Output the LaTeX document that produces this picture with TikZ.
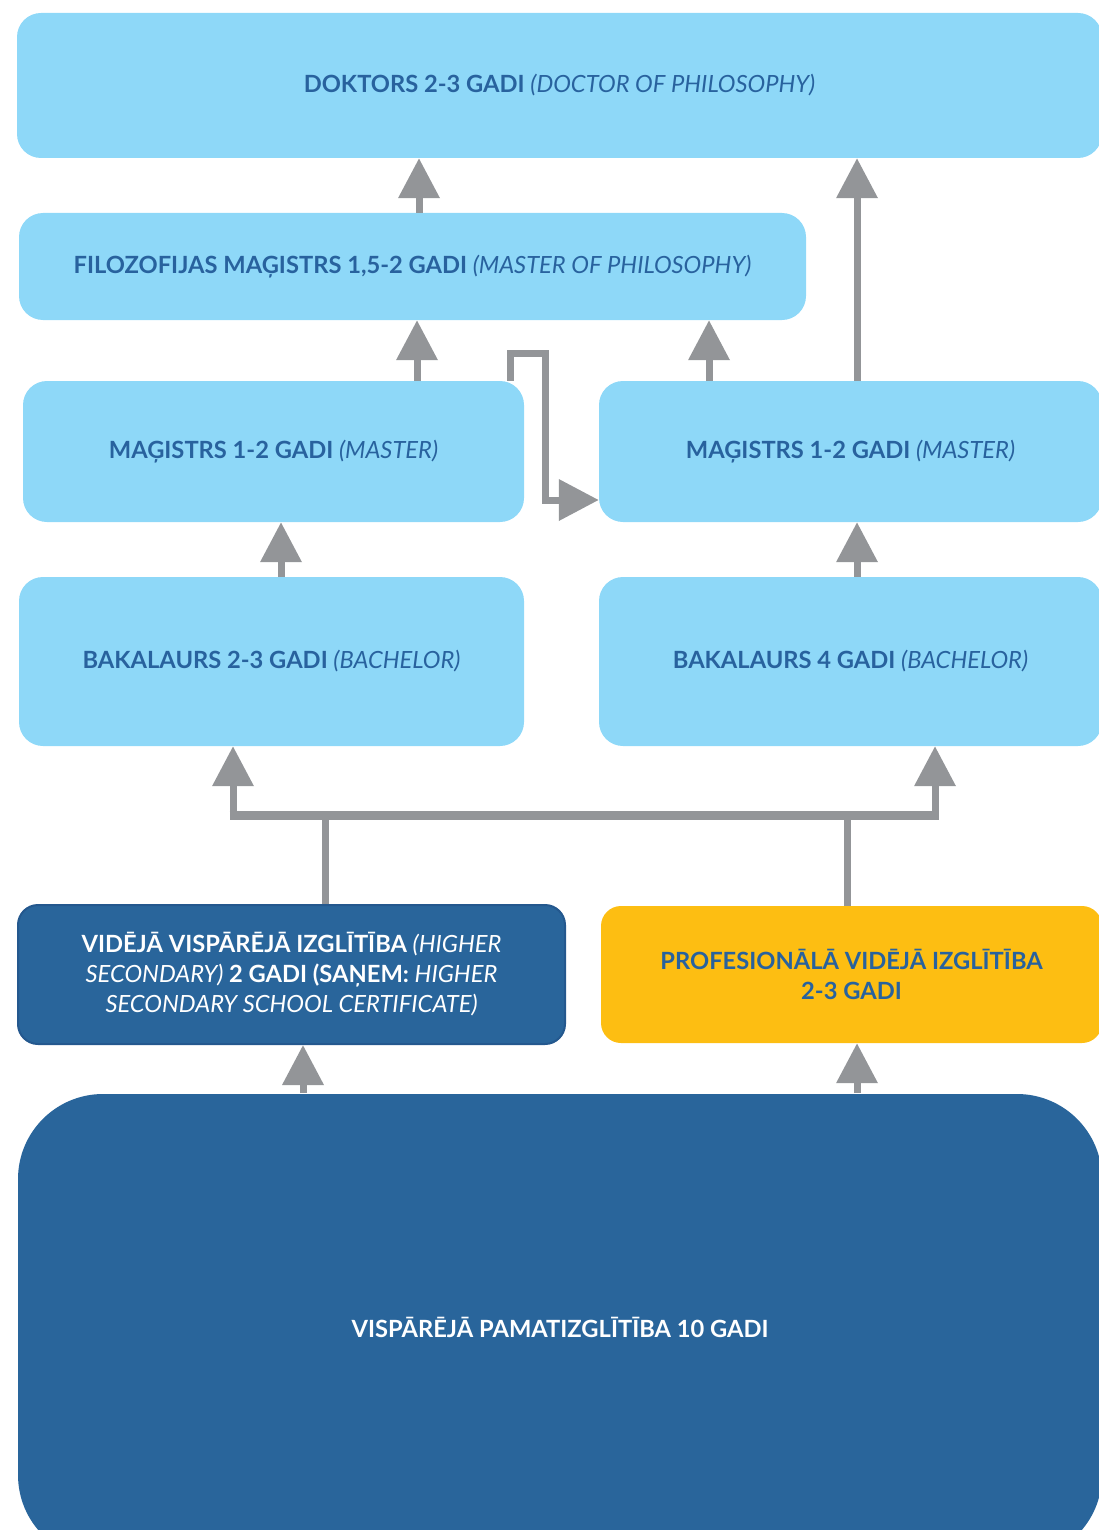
\documentclass[tikz,border=0pt]{standalone}
\usepackage{fontspec}
\setmainfont{Lato}
\usepackage{xcolor}
\usetikzlibrary{arrows.meta}
\definecolor{azulceu}{RGB}{142,216,248}
\definecolor{azulnoite}{RGB}{41,101,155}
\definecolor{azulborda}{RGB}{36,88,142}
\definecolor{azultexto}{RGB}{40,98,158}
\definecolor{amarelo}{RGB}{253,190,18}
\definecolor{cinzaseta}{RGB}{147,149,152}
\newcommand{\ingl}[1]{\textit{\mdseries #1}}
\tikzset{
  caixa/.style={rectangle,rounded corners=24pt,fill=azulceu,text=azultexto,
    font=\fontsize{23.7}{30}\selectfont\bfseries,align=center,inner sep=0pt},
  caixaescura/.style={caixa,fill=azulnoite,draw=azulborda,line width=2pt,text=white},
  caixaamarela/.style={caixa,fill=amarelo},
  seta/.style={-{Triangle[length=40pt,width=40pt]},line width=7pt,cinzaseta},
  linha/.style={line width=7pt,cinzaseta},
  barra/.style={line width=9pt,cinzaseta}
}

\begin{document}
\begin{tikzpicture}[x=1pt,y=-1pt]
\useasboundingbox (0,0) rectangle (1099,1530);
\clip (0,0) rectangle (1099,1530);
% caixas
\node[caixa,minimum width=1085pt,minimum height=145pt] (doktors) at (559.5,85.5)
  {DOKTORS 2-3 GADI \ingl{(DOCTOR OF PHILOSOPHY)}};
\node[caixa,minimum width=787pt,minimum height=107pt] (filo) at (412.5,266.5)
  {FILOZOFIJAS MAĢISTRS 1,5-2 GADI \ingl{(MASTER OF PHILOSOPHY)}};
\node[caixa,minimum width=501pt,minimum height=141pt] (magL) at (273.5,451.5)
  {MAĢISTRS 1-2 GADI \ingl{(MASTER)}};
\node[caixa,minimum width=503pt,minimum height=141pt] (magR) at (850.5,451.5)
  {MAĢISTRS 1-2 GADI \ingl{(MASTER)}};
\node[caixa,minimum width=505pt,minimum height=169pt] (bakL) at (271.5,661.5)
  {BAKALAURS 2-3 GADI \ingl{(BACHELOR)}};
\node[caixa,minimum width=503pt,minimum height=169pt] (bakR) at (850.5,661.5)
  {BAKALAURS 4 GADI \ingl{(BACHELOR)}};
\node[caixaescura,rounded corners=20pt,minimum width=547pt,minimum height=139pt] (vid) at (291.5,974.5)
  {VIDĒJĀ VISPĀRĒJĀ IZGLĪTĪBA \ingl{(HIGHER}\\
   \ingl{SECONDARY)} 2 GADI (SAŅEM: \ingl{HIGHER}\\
   \ingl{SECONDARY SCHOOL CERTIFICATE)}};
\node[caixaamarela,rounded corners=20pt,minimum width=501pt,minimum height=137pt] (prof) at (851.5,974.5)
  {PROFESIONĀLĀ VIDĒJĀ IZGLĪTĪBA\\2-3 GADI};
\node[caixaescura,draw=none,rounded corners=85pt,minimum width=1084pt,minimum height=466pt] (visp) at (560,1327)
  {VISPĀRĒJĀ PAMATIZGLĪTĪBA 10 GADI};
% setas
\draw[seta] (419,0 |- filo.north) -- (419,0 |- doktors.south);
\draw[seta] (857,0 |- magR.north) -- (857,0 |- doktors.south);
\draw[seta] (417,0 |- magL.north) -- (417,0 |- filo.south);
\draw[seta] (709,0 |- magR.north) -- (709,0 |- filo.south);
\draw[seta] (281,0 |- bakL.north) -- (281,0 |- magL.south);
\draw[seta] (857,0 |- bakR.north) -- (857,0 |- magR.south);
\draw[seta] (510,0 |- magL.north) -- (510,353) -| (545,500) -- (magR.west |- 0,500);
% barramento
\coordinate (busesq) at (233,815);
\coordinate (busdir) at (935,815);
\draw[linha] (325,0 |- vid.north) -- (325,815);
\draw[linha] (847,0 |- prof.north) -- (847,815);
\draw[barra] ([xshift=-3.5pt]busesq) -- ([xshift=3.5pt]busdir);
\draw[seta] (busesq) -- (busesq |- bakL.south);
\draw[seta] (busdir) -- (busdir |- bakR.south);
\draw[seta] (303,0 |- visp.north) -- (303,0 |- vid.south);
\draw[seta] (857,0 |- visp.north) -- (857,0 |- prof.south);
\end{tikzpicture}
\end{document}
